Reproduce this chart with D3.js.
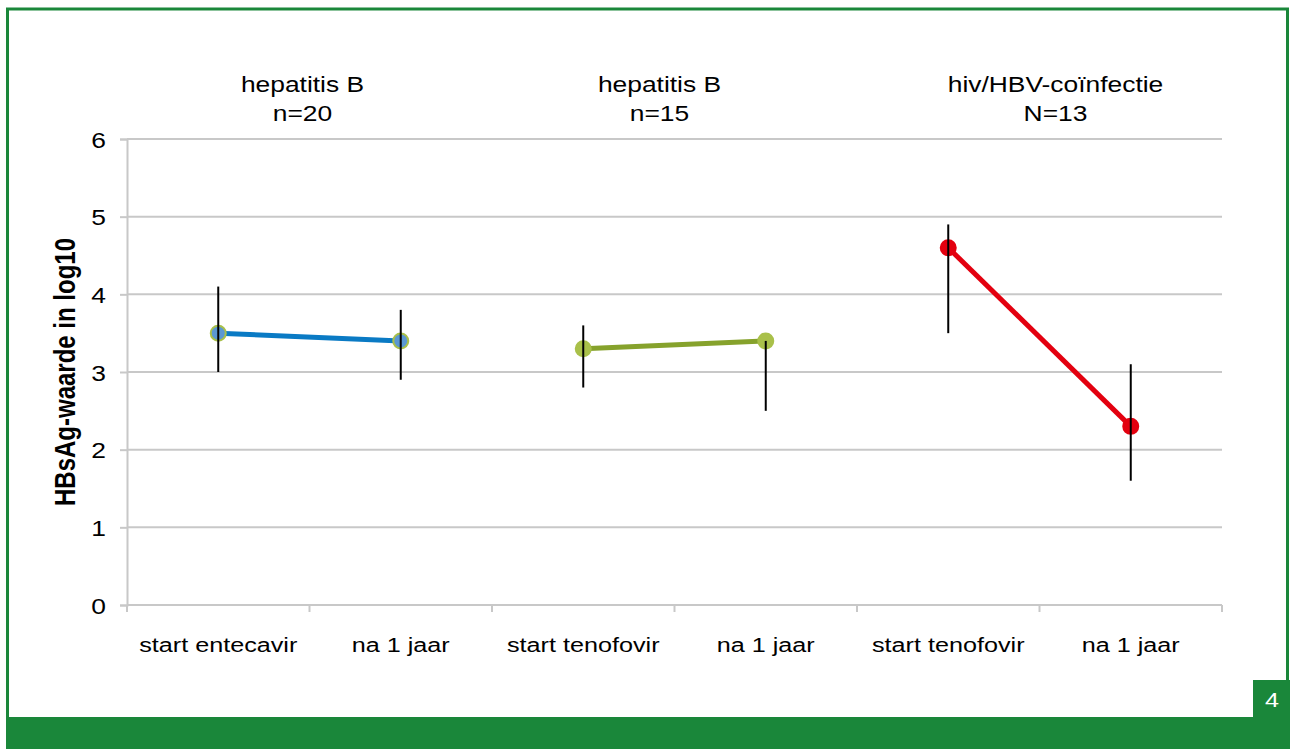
<!DOCTYPE html>
<html>
<head>
<meta charset="utf-8">
<script src="https://cdn.jsdelivr.net/npm/d3@7"></script>
<style>
  body { margin: 0; background: #fff; }
  svg { display: block; font-family: "Liberation Sans", Arial, sans-serif; }
</style>
</head>
<body>
<div id="chart"></div>
<script>
// data
const categories = ["start entecavir", "na 1 jaar", "start tenofovir", "na 1 jaar ", "start tenofovir ", "na 1 jaar  "];
const groupTitles = [["hepatitis B", "n=20"], ["hepatitis B", "n=15"], ["hiv/HBV-coïnfectie", "N=13"]];
const groupValues = [[3.5, 3.4], [3.3, 3.4], [4.6, 2.3]];
const groupLow = [[3.0, 2.9], [2.8, 2.5], [3.5, 1.6]];
const groupHigh = [[4.1, 3.8], [3.6, 3.4], [4.9, 3.1]];
const yTicks = [0, 1, 2, 3, 4, 5, 6];
const lineColors = ["#0a7ac4", "#86a22c", "#e3000f"];
const markerFill = ["#5b98d2", "#a9c04a", "#e3000f"];
const markerStroke = ["#a9c04a", "#a9c04a", "#e3000f"];

const width = 1290, height = 749,
  margin = ({top: 139, right: 68, bottom: 144, left: 127});
const green = "#1a873a";
const sx = 1.2; // the text in the original looks stretched sideways
const titleShift = [-7, -15, 16];

let svg = d3.select("#chart").append("svg")
  .attr("width", width).attr("height", height);

// helper for sideways-stretched text
function label(parent, tx, ty, str, size, anchor) {
  return parent.append("text")
    .attr("transform", `translate(${tx},${ty}) scale(${sx},1)`)
    .attr("text-anchor", anchor || "middle")
    .attr("font-size", size).attr("fill", "#000")
    .text(str);
}

// frame
svg.append("rect").attr("x", 7.5).attr("y", 9).attr("width", 1280).attr("height", 720)
  .attr("fill", "none").attr("stroke", green).attr("stroke-width", 3);
svg.append("rect").attr("x", 6).attr("y", 717).attr("width", 1284).attr("height", 32).attr("fill", green);
svg.append("rect").attr("x", 1253).attr("y", 680).attr("width", 37).attr("height", 40).attr("fill", green);
label(svg, 1272, 707, "4", 21).attr("fill", "#fff");

let x = d3.scaleBand()
  .domain(categories)
  .range([margin.left, width - margin.right]);

let y = d3.scaleLinear()
  .domain([0, 6])
  .range([height - margin.bottom, margin.top]);

// gridlines
svg.append("g").selectAll("line").data(yTicks).join("line")
  .attr("x1", margin.left).attr("x2", width - margin.right)
  .attr("y1", d => y(d)).attr("y2", d => y(d))
  .attr("stroke", "#c8c8c8").attr("stroke-width", 2);

// y axis
const yAxis = g => g
  .attr("transform", `translate(${margin.left},0)`)
  .call(d3.axisLeft(y).tickValues(yTicks).tickFormat(d3.format("d")).tickSize(7).tickPadding(10))
  .call(g => g.selectAll("path, line").attr("stroke", "#c8c8c8").attr("stroke-width", 2))
  .call(g => g.selectAll("text").remove())
  .call(g => g.selectAll(".tick").each(function(d) {
    label(d3.select(this), -21, 8, String(d), 22, "end");
  }));
svg.append("g").call(yAxis);

// x axis: ticks between categories
const xAxis = g => g
  .attr("transform", `translate(0,${y(0)})`)
  .call(g => g.append("line").attr("x1", margin.left).attr("x2", width - margin.right)
    .attr("stroke", "#c8c8c8").attr("stroke-width", 2))
  .call(g => g.selectAll(".tk").data(d3.range(categories.length + 1)).join("line")
    .attr("class", "tk")
    .attr("x1", i => x.range()[0] + i * x.step()).attr("x2", i => x.range()[0] + i * x.step())
    .attr("y1", 0).attr("y2", 7).attr("stroke", "#c8c8c8").attr("stroke-width", 2));
const xg = svg.append("g").call(xAxis);
categories.forEach(c => label(xg, x(c) + x.bandwidth() / 2, 47, c.trim(), 21));

// y title
svg.append("text")
  .attr("transform", `translate(75,${y(3)}) scale(${sx},1) rotate(-90)`)
  .attr("text-anchor", "middle").attr("font-size", 24).attr("font-weight", "bold")
  .text("HBsAg-waarde in log10");

// group titles
groupTitles.forEach((t, gi) => {
  const cx = x(categories[gi * 2]) + x.bandwidth() + titleShift[gi];
  label(svg, cx, 92, t[0], 22);
  label(svg, cx, 121, t[1], 22);
});

// series
groupValues.forEach((vals, gi) => {
  const pts = vals.map((v, j) => ({
    cx: x(categories[gi * 2 + j]) + x.bandwidth() / 2,
    v, lo: groupLow[gi][j], hi: groupHigh[gi][j]
  }));
  const g = svg.append("g");
  g.append("path").datum(pts)
    .attr("d", d3.line().x(d => d.cx).y(d => y(d.v)))
    .attr("fill", "none").attr("stroke", lineColors[gi]).attr("stroke-width", 5);
  g.selectAll("circle").data(pts).join("circle")
    .attr("cx", d => d.cx).attr("cy", d => y(d.v)).attr("r", 7.5)
    .attr("fill", markerFill[gi]).attr("stroke", markerStroke[gi]).attr("stroke-width", 2);
  g.selectAll(".err").data(pts).join("line")
    .attr("class", "err")
    .attr("x1", d => d.cx).attr("x2", d => d.cx)
    .attr("y1", d => y(d.lo)).attr("y2", d => y(d.hi))
    .attr("stroke", "#000").attr("stroke-width", 2);
});
</script>
</body>
</html>
